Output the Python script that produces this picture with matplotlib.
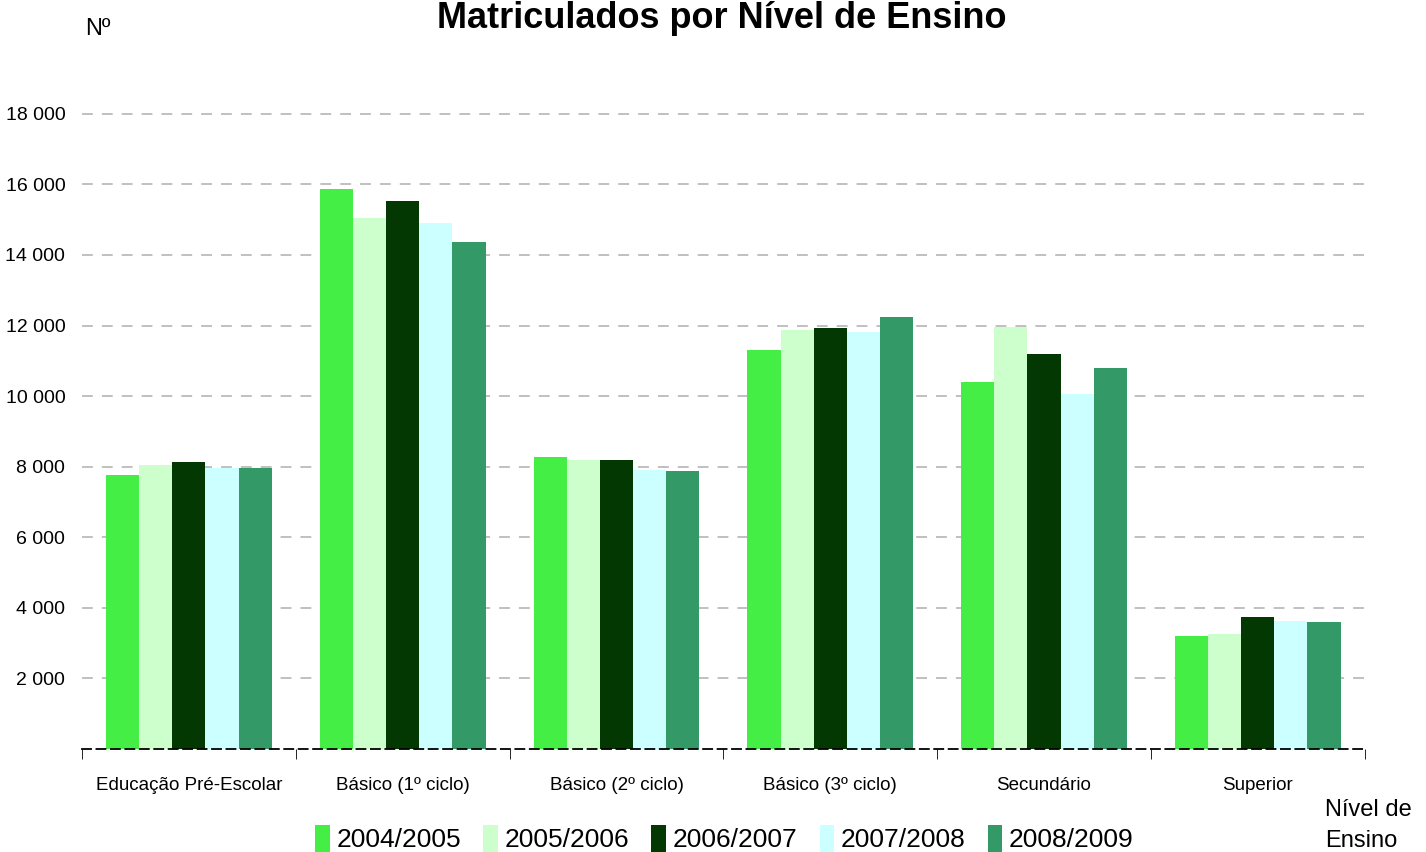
import matplotlib.pyplot as plt
import numpy as np

plt.rcParams['font.family'] = ['Liberation Sans', 'DejaVu Sans']

categories = ["Educação Pré-Escolar", "Básico (1º ciclo)", "Básico (2º ciclo)",
              "Básico (3º ciclo)", "Secundário", "Superior"]
years = ["2004/2005", "2005/2006", "2006/2007", "2007/2008", "2008/2009"]

v_2004 = [7760, 15880, 8270, 11300, 10400, 3200]
v_2005 = [8040, 15040, 8190, 11870, 11950, 3260]
v_2006 = [8130, 15520, 8190, 11930, 11190, 3740]
v_2007 = [7960, 14900, 7900, 11810, 10060, 3630]
v_2008 = [7960, 14360, 7880, 12240, 10790, 3600]

series = [v_2004, v_2005, v_2006, v_2007, v_2008]
colors = ["#44EE44", "#CCFFCC", "#033803", "#CCFFFF", "#339966"]
yticks = [2000, 4000, 6000, 8000, 10000, 12000, 14000, 16000, 18000]

fig = plt.figure(figsize=(14.26, 8.52), dpi=100)
ax = fig.add_axes([0.0575, 0.121, 0.8995, 0.762])

x = np.arange(len(categories))
w = 0.155
for i, (vals, c) in enumerate(zip(series, colors)):
    ax.bar(x + (i - 2) * w, vals, width=w, color=c, label=years[i], zorder=3)

ax.set_xlim(-0.5, len(categories) - 0.5)
ax.set_ylim(0, 18400)
ax.set_yticks(yticks)
ax.set_yticklabels([f"{v:,}".replace(",", " ") for v in yticks], fontsize=14)
ax.set_xticks(x)
ax.set_xticklabels(categories, fontsize=13.5)
ax.set_xticks(np.arange(-0.5, len(categories), 1), minor=True)
ax.tick_params(axis='x', which='major', length=0, pad=20)
ax.tick_params(axis='x', which='minor', length=7, color='black', direction='out')
ax.tick_params(axis='y', length=0, pad=12)

for y in yticks:
    ax.axhline(y, color='#bbbbbb', lw=1.3, ls=(0, (6, 5)), zorder=1)

for s in ['top', 'right', 'left']:
    ax.spines[s].set_visible(False)
ax.spines['bottom'].set_linestyle((0, (5, 3)))
ax.spines['bottom'].set_linewidth(1.3)
ax.spines['bottom'].set_zorder(4)

fig.text(0.506, 0.999, "Matriculados por Nível de Ensino", ha='center', va='top',
         fontsize=26, fontweight='bold')
fig.text(0.06, 0.966, "Nº", ha='left', va='center', fontsize=17)
fig.text(0.929, 0.031, "Nível de\nEnsino", ha='left', va='center', fontsize=17,
         linespacing=1.5)

fig.legend(loc='center', bbox_to_anchor=(0.508, 0.016), ncol=5, frameon=False,
           fontsize=19, handlelength=0.55, handleheight=1.2, handletextpad=0.25,
           columnspacing=0.85, borderpad=0)

fig.savefig("out.png", dpi=100)
